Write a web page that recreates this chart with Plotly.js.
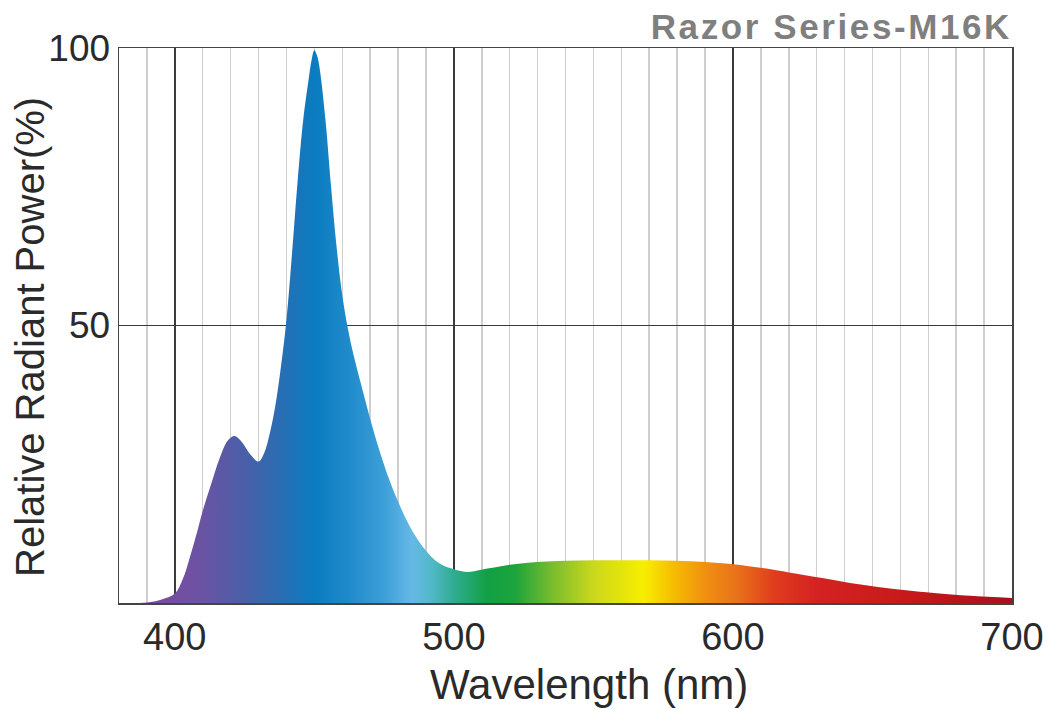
<!DOCTYPE html>
<html>
<head>
<meta charset="utf-8">
<script src="https://cdn.plot.ly/plotly-3.0.1.min.js"></script>
<style>
  html, body { margin: 0; padding: 0; background: #ffffff; }
  #chart { width: 1054px; height: 710px; }
</style>
</head>
<body>
<div id="chart"></div>
<script>
// Wavelength (nm)
const wavelength = [
  380, 385, 390, 395, 400, 403, 406, 408, 410, 413, 416, 419, 421.5, 424, 427, 430,
  432, 434, 436, 438, 440, 442, 444, 446, 448, 449, 450, 451, 452, 454, 456, 458, 460, 462,
  464, 466, 468, 470, 473, 476, 480, 484, 488, 492, 496, 500, 505, 512, 520, 530,
  540, 550, 560, 570, 580, 590, 600, 612, 620, 632, 642, 652, 662, 672, 685, 700
];
// Relative radiant power (%)
const power = [
  0, 0, 0.1, 0.6, 1.7, 4.5, 9.3, 12.8, 16.6, 21.4, 26.0, 29.3, 30.1, 29.0, 26.8, 25.5,
  27.0, 30.5, 35.5, 42.5, 51, 63, 76, 87, 94.5, 97.8, 99.6, 98.6, 96, 87, 75, 64, 55.5, 49.5,
  44.8, 40.8, 37.0, 33.2, 28.0, 23.4, 18.3, 14.0, 10.7, 8.3, 6.8, 6.1, 5.6, 6.2, 6.9, 7.4,
  7.6, 7.7, 7.7, 7.7, 7.6, 7.4, 7.0, 6.2, 5.5, 4.5, 3.6, 2.9, 2.3, 1.8, 1.3, 0.9
];
// Tick labels
const xTicks = [400, 500, 600, 700];
const yTicks = [50, 100];
const yTickText = ['50', '100'];

// Spectrum colour stops (wavelength, colour)
const spectrumNm = [395, 410, 425, 440, 450, 462, 475, 485, 492, 500, 512, 522, 535, 550, 568, 578, 590, 602, 615, 630, 660, 700];
const spectrumColor = ['#7a4a9f', '#6a53a3', '#4a5fa8', '#2470b5', '#0a7cc0', '#1f8acb', '#3c9fd8', '#66b8e6', '#52b8c8', '#30ac90', '#12a045', '#1ca43c', '#78bc2e', '#cad81c', '#f8ee00', '#f6c000', '#f09010', '#e8701a', '#e03c1e', '#d42222', '#c81a1a', '#a8101c'];

const gStart = spectrumNm[0], gStop = spectrumNm[spectrumNm.length - 1];
const colorscale = spectrumNm.map((w, i) => [(w - gStart) / (gStop - gStart), spectrumColor[i]]);

const FONT = 'Liberation Sans, Arial, Helvetica, sans-serif';

const trace = {
  type: 'scatter',
  x: wavelength,
  y: power,
  mode: 'lines',
  line: { width: 0.5, color: 'rgba(0,0,0,0)', shape: 'spline', smoothing: 1.0 },
  fill: 'tozeroy',
  fillgradient: { type: 'horizontal', colorscale: colorscale, start: gStart, stop: gStop },
  hoverinfo: 'x+y',
  showlegend: false
};

const layout = {
  width: 1054,
  height: 710,
  margin: { l: 119, r: 42, t: 48, b: 107 },
  paper_bgcolor: '#ffffff',
  plot_bgcolor: '#ffffff',
  title: {
    text: '<span style="letter-spacing:2.6px">Razor Series-M16K</span>',
    font: { family: FONT, size: 35, color: '#7f7f7f', weight: 'bold' },
    x: 1, xref: 'paper', xanchor: 'right',
    y: 0.962, yref: 'container', yanchor: 'middle'
  },
  xaxis: {
    range: [380, 700],
    tickmode: 'array',
    tickvals: xTicks,
    ticks: '',
    tickfont: { family: FONT, size: 38, color: '#2a2a2a' },
    showgrid: true,
    gridcolor: '#3a3a3a',
    gridwidth: 1.5,
    minor: { tickmode: 'linear', tick0: 380, dtick: 10, showgrid: true, gridcolor: '#cfcfcf', gridwidth: 1.5, ticks: '' },
    showline: true, mirror: true, linecolor: '#444444', linewidth: 1.5,
    zeroline: false,
    fixedrange: true
  },
  yaxis: {
    range: [0, 100],
    tickmode: 'array',
    tickvals: yTicks,
    ticktext: yTickText,
    ticks: '',
    tickfont: { family: FONT, size: 37, color: '#2a2a2a' },
    showgrid: true,
    gridcolor: '#3a3a3a',
    gridwidth: 1.5,
    showline: true, mirror: true, linecolor: '#444444', linewidth: 1.5,
    zeroline: false,
    fixedrange: true
  },
  annotations: [
    {
      text: 'Wavelength (nm)',
      xref: 'paper', yref: 'paper',
      x: (589 - 119) / 893, y: (603 - 684) / 555,
      xanchor: 'center', yanchor: 'middle',
      showarrow: false,
      font: { family: FONT, size: 42, color: '#2a2a2a' }
    },
    {
      text: 'Relative Radiant Power(%)',
      xref: 'paper', yref: 'paper',
      x: (30 - 119) / 893, y: (603 - 337) / 555,
      xanchor: 'center', yanchor: 'middle',
      textangle: -90,
      showarrow: false,
      font: { family: FONT, size: 40, color: '#2a2a2a' }
    }
  ]
};

Plotly.newPlot('chart', [trace], layout, { displayModeBar: false, staticPlot: true });
</script>
</body>
</html>
